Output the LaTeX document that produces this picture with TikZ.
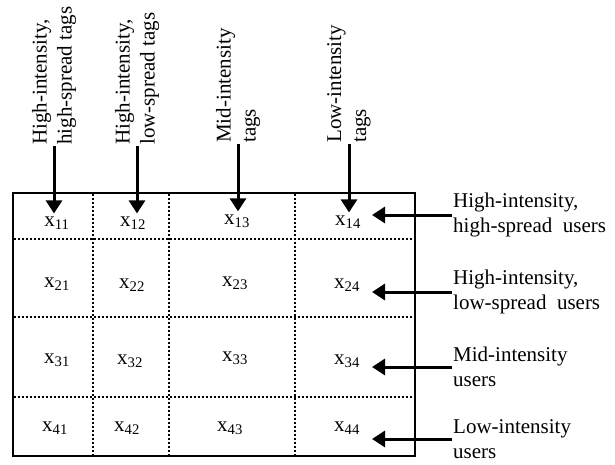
\documentclass[tikz,border=0pt]{standalone}
\usepackage{fontspec}
\setmainfont{Liberation Serif}
\usetikzlibrary{positioning, arrows.meta}

\begin{document}
\begin{tikzpicture}[x=1pt, y=-1pt, font=\fontsize{21}{25}\selectfont,
        cell/.style={inner sep=3pt},
        grid/.style={line width=2pt, dash pattern=on 2pt off 2pt},
        pointer/.style={line width=3pt, -{Triangle[length=13pt, width=16pt]}},
        tagtext/.style={rotate=90, anchor=west, align=left, inner sep=1pt},
        usertext/.style={anchor=west, align=left, inner sep=1pt}]
            \useasboundingbox (0,0) rectangle (615,464);

            \node [draw, line width=2.5pt, minimum width=402pt, minimum height=263pt, inner sep=0pt] (matrix) at (214, 324.5) {};
            \foreach \gx in {93, 169, 295} \draw [grid] (\gx, 194) -- (\gx, 455);
            \foreach \gy in {239, 317, 397} \draw [grid] (14, \gy) -- (414, \gy);

            \node [cell] (x11) at (57, 223) {x\textsubscript{11}};
            \node [cell] (x12) at (133, 223) {x\textsubscript{12}};
            \node [cell] (x13) at (237, 221) {x\textsubscript{13}};
            \node [cell] (x14) at (348, 222) {x\textsubscript{14}};
            \node [cell] (x21) at (57, 284) {x\textsubscript{21}};
            \node [cell] (x22) at (132, 285) {x\textsubscript{22}};
            \node [cell] (x23) at (235, 283) {x\textsubscript{23}};
            \node [cell] (x24) at (347, 285) {x\textsubscript{24}};
            \node [cell] (x31) at (57, 360) {x\textsubscript{31}};
            \node [cell] (x32) at (130, 361) {x\textsubscript{32}};
            \node [cell] (x33) at (235, 358) {x\textsubscript{33}};
            \node [cell] (x34) at (347, 361) {x\textsubscript{34}};
            \node [cell] (x41) at (55, 428) {x\textsubscript{41}};
            \node [cell] (x42) at (127, 428) {x\textsubscript{42}};
            \node [cell] (x43) at (230, 428) {x\textsubscript{43}};
            \node [cell] (x44) at (347, 428) {x\textsubscript{44}};

            \node [tagtext] (tag1) at (54, 146) {High-intensity,\\high-spread tags};
            \node [tagtext] (tag2) at (137, 146) {High-intensity,\\low-spread tags};
            \node [tagtext] (tag3) at (238, 144) {Mid-intensity\\tags};
            \node [tagtext] (tag4) at (349, 144) {Low-intensity\\tags};

            \draw [pointer] (tag1.west) -- (tag1.west |- x11.north);
            \draw [pointer] (tag2.west) -- (tag2.west |- x12.north);
            \draw [pointer] (tag3.west) -- (tag3.west |- x13.north);
            \draw [pointer] (tag4.west) -- (tag4.west |- x14.north);

            \node [usertext] (user1) at (452, 215) {High-intensity,\\high-spread\ \ users};
            \node [usertext] (user2) at (452, 292) {High-intensity,\\low-spread\ \ users};
            \node [usertext] (user3) at (452, 367) {Mid-intensity\\users};
            \node [usertext] (user4) at (452, 439) {Low-intensity\\users};

            \coordinate (tipcol) at (372, 0);
            \draw [pointer] (user1.west) -- (user1.west -| tipcol);
            \draw [pointer] (user2.west) -- (user2.west -| tipcol);
            \draw [pointer] (user3.west) -- (user3.west -| tipcol);
            \draw [pointer] (user4.west) -- (user4.west -| tipcol);
\end{tikzpicture}
\end{document}
